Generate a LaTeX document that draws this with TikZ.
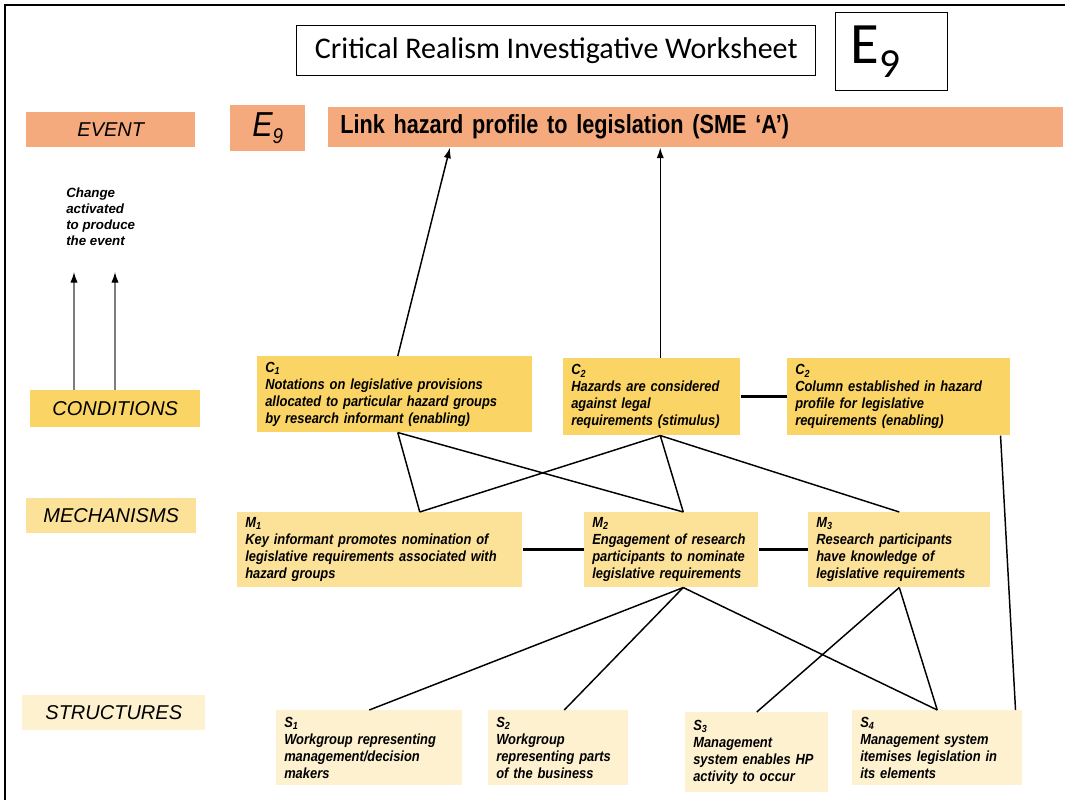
\documentclass[tikz,border=0pt]{standalone}
\usepackage{fontspec}
\setmainfont{Liberation Sans}
\newfontfamily\narrowfont[FakeStretch=0.88]{Liberation Sans}
\newfontfamily\barfont[FakeStretch=0.83]{Liberation Sans}
\newfontfamily\carlito{Carlito}
\usetikzlibrary{arrows.meta, positioning, calc}
\definecolor{evorange}{RGB}{245,170,125}
\definecolor{condyellow}{RGB}{250,212,100}
\definecolor{mechyellow}{RGB}{252,225,152}
\definecolor{structcream}{RGB}{253,241,208}
\definecolor{arrowgray}{RGB}{125,125,125}
\newcommand{\boxtext}{\narrowfont\bfseries\itshape\fontsize{11}{12.75}\selectfont}
\tikzset{
  levelbox/.style={rectangle, anchor=north west, inner sep=0pt,
    font=\fontsize{15}{18}\selectfont\itshape},
  eventbox/.style={rectangle, anchor=north west, fill=evorange, inner sep=0pt},
  headbox/.style={rectangle, anchor=north west, draw=black, line width=1.1pt,
    inner sep=0pt},
  condbox/.style={rectangle, anchor=north west, fill=condyellow, align=left,
    inner xsep=6pt, inner ysep=0pt, font=\boxtext},
  mechbox/.style={condbox, fill=mechyellow},
  structbox/.style={condbox, fill=structcream},
  arrow/.style={-{Latex[length=8pt, width=5.5pt]}, line width=1.1pt, color=black},
  greyarrow/.style={-{Latex[length=8pt, width=5.5pt, color=black]}, line width=1pt,
    color=arrowgray},
  line/.style={line width=1.1pt, color=black},
  thickline/.style={line width=2.4pt, color=black},
  frame/.style={line width=1.5pt, color=black}
}

\begin{document}
\begin{tikzpicture}[x=0.75pt, y=-0.75pt]
  \useasboundingbox (0,0) rectangle (1065,800);
  \draw[frame] (5,800) -- (5,5) -- (1065,5);

  % header
  \node[headbox, minimum width=389.25pt, minimum height=37.5pt,
    font=\carlito\fontsize{22.5}{26}\selectfont] (title) at (296,25)
    {Critical Realism Investigative Worksheet};
  \node[headbox, minimum width=84pt, minimum height=58.5pt] (ebig) at (835,12)
    {\carlito\fontsize{44}{48}\selectfont E\raisebox{-10pt}{\fontsize{31}{34}\selectfont 9}\kern24pt\relax};

  % event row
  \node[levelbox, eventbox, minimum width=126.75pt, minimum height=26.25pt] (event) at (26,112) {EVENT};
  \node[eventbox, minimum width=56.25pt, minimum height=34.5pt] (esmall) at (230,105)
    {\narrowfont\itshape\fontsize{26}{28}\selectfont E\raisebox{-5pt}{\fontsize{16}{17}\selectfont 9}};
  \node[eventbox, text width=533.25pt, inner xsep=9pt, minimum height=30pt, align=left,
    font=\barfont\bfseries\fontsize{19.6}{22}\selectfont] (bar) at (328,107)
    {Link hazard profile to legislation (SME ‘A’)};

  \node[anchor=north west, inner sep=0pt, align=left,
    font=\bfseries\itshape\fontsize{10}{12}\selectfont] (change) at (66,188)
    {Change\\activated\\to produce\\the event};

  % level labels
  \node[levelbox, fill=condyellow, minimum width=127.5pt, minimum height=27.75pt] (cond) at (30,390) {CONDITIONS};
  \node[levelbox, fill=mechyellow, minimum width=127.5pt, minimum height=26.25pt] (mech) at (26,498) {MECHANISMS};
  \node[levelbox, fill=structcream, minimum width=137.25pt, minimum height=26.25pt] (struct) at (22,695) {STRUCTURES};

  \coordinate (chg1) at (74,272);
  \coordinate (chg2) at (115,272);
  \draw[greyarrow] (cond.north -| chg1) -- (chg1);
  \draw[greyarrow] (cond.north -| chg2) -- (chg2);

  % conditions
  \node[condbox, text width=194.25pt, minimum height=57pt] (c1) at (257,356)
    {C\textsubscript{1}\\Notations on legislative provisions\\allocated to particular hazard groups\\by research informant (enabling)};
  \node[condbox, text width=120.75pt, minimum height=57.75pt] (c2) at (563,358)
    {C\textsubscript{2}\\Hazards are considered\\against legal\\requirements (stimulus)};
  \node[condbox, text width=155.25pt, minimum height=57.75pt] (c3) at (787,358)
    {C\textsubscript{2}\\Column established in hazard\\profile for legislative\\requirements (enabling)};

  % mechanisms
  \node[mechbox, text width=201.75pt, minimum height=56.25pt] (m1) at (237,512)
    {M\textsubscript{1}\\Key informant promotes nomination of\\legislative requirements associated with\\hazard groups};
  \node[mechbox, text width=118.5pt, minimum height=56.25pt] (m2) at (584,512)
    {M\textsubscript{2}\\Engagement of research\\participants to nominate\\legislative requirements};
  \node[mechbox, text width=124.5pt, minimum height=56.25pt] (m3) at (808,512)
    {M\textsubscript{3}\\Research participants\\have knowledge of\\legislative requirements};

  % structures
  \node[structbox, text width=127.5pt, minimum height=56.25pt] (s1) at (276,710)
    {S\textsubscript{1}\\Workgroup representing\\management/decision\\makers};
  \node[structbox, text width=93pt, minimum height=56.25pt] (s2) at (488,710)
    {S\textsubscript{2}\\Workgroup\\representing parts\\of the business};
  \node[structbox, text width=95.25pt, minimum height=60pt] (s3) at (685,712)
    {S\textsubscript{3}\\Management\\system enables HP\\activity to occur};
  \node[structbox, text width=115.5pt, minimum height=56.25pt] (s4) at (852,710)
    {S\textsubscript{4}\\Management system\\itemises legislation in\\its elements};

  % anchor points on the boxes
  \coordinate (c1up) at ($(c1.north)+(3,0)$);
  \coordinate (barc1) at ($(bar.south west)+(122,0)$);
  \coordinate (c2up) at ($(c2.north)+(8.5,0)$);
  \coordinate (c1low) at ($(c1.south)+(3,0)$);
  \coordinate (c2low) at ($(c2.south)+(8.5,0)$);
  \coordinate (c3low) at ($(c3.south east)+(-10,0)$);
  \coordinate (m1up) at ($(m1.north)+(40,0)$);
  \coordinate (m2up) at ($(m2.north)+(12,0)$);
  \coordinate (m2low) at ($(m2.south)+(12,0)$);
  \coordinate (s2up) at ($(s2.north)+(6,0)$);
  \coordinate (s4up) at ($(s4.north east)+(-7,0)$);

  \draw[arrow] (c1up) -- (barc1);
  \draw[arrow] (c2up) -- (c2up |- bar.south);
  \draw[thickline] (c2.east) -- (c3.west);

  \draw[line] (c1low) -- (m1up);
  \draw[line] (c1low) -- (m2up);
  \draw[line] (c2low) -- (m1up);
  \draw[line] (c2low) -- (m2up);
  \draw[line] (c2low) -- (m3.north);

  \draw[thickline] (m1.east) -- (m2.west);
  \draw[thickline] (m2.east) -- (m3.west);

  \draw[line] (m2low) -- (s1.north);
  \draw[line] (m2low) -- (s2up);
  \draw[line] (m2low) -- (s4.north);
  \draw[line] (m3.south) -- (s3.north);
  \draw[line] (m3.south) -- (s4.north);
  \draw[line] (c3low) -- (s4up);
\end{tikzpicture}
\end{document}
